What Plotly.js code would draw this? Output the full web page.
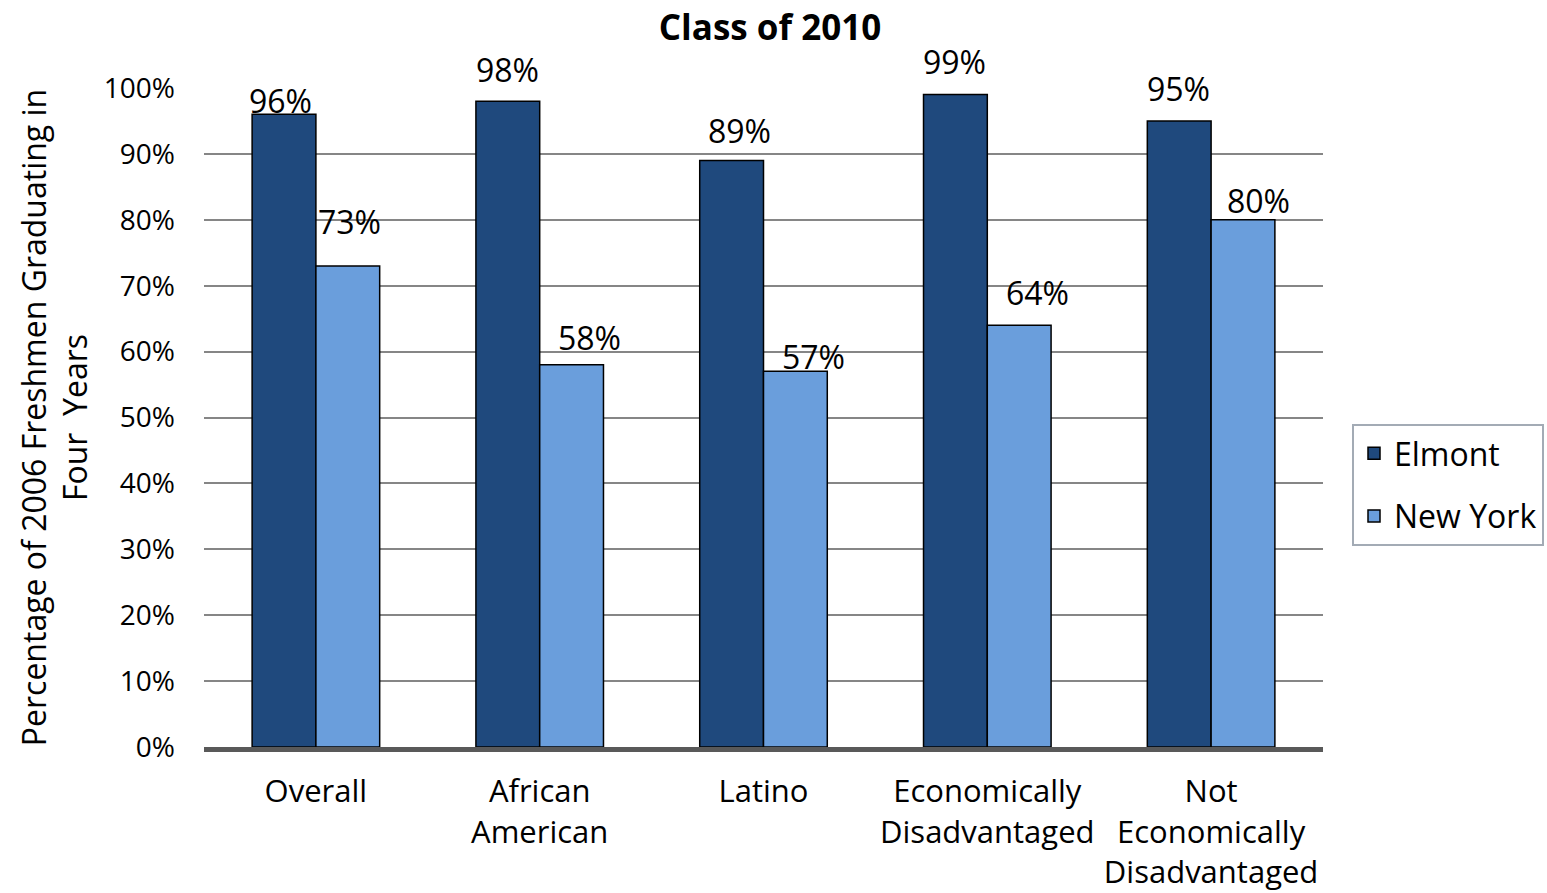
<!DOCTYPE html>
<html><head><meta charset="utf-8">
<script src="https://cdn.plot.ly/plotly-3.0.1.min.js"></script>
<style>html,body{margin:0;padding:0;background:#fff;}#chart{width:1547px;height:893px;}</style>
</head><body><div id="chart"></div>
<script>
const categories = ["Overall", "African<br>American", "Latino", "Economically<br>Disadvantaged", "Not<br>Economically<br>Disadvantaged"];
const elmont = [0.96, 0.98, 0.89, 0.99, 0.95];
const newYork = [0.73, 0.58, 0.57, 0.64, 0.80];
const yTickVals = [0, 0.1, 0.2, 0.3, 0.4, 0.5, 0.6, 0.7, 0.8, 0.9, 1.0];
const yTickText = ["0%", "10%", "20%", "30%", "40%", "50%", "60%", "70%", "80%", "90%", "100%"];

// label nudges (pixels) mimicking the original label placement
const elmontLabelShift = [[-3, 14], [0, 32], [8, 30], [-1, 33], [-1, 32]];
const nyLabelShift = [[2, 44], [18, 27], [18, 15], [18, 33], [15, 19]];

const FONT = "'Open Sans', 'Noto Sans', sans-serif";

const traces = [
  {type: "bar", name: "Elmont", x: categories, y: elmont, legendgroup: "a",
   marker: {color: "#1f497d", line: {color: "#000", width: 1.5}}, hoverinfo: "skip"},
  {type: "bar", name: "New York", x: categories, y: newYork, legendgroup: "b",
   marker: {color: "#6a9edc", line: {color: "#000", width: 1.5}}, hoverinfo: "skip"}
];

const annotations = [];
function pct(v){ return Math.round(v*100) + "%"; }
elmont.forEach((v, i) => annotations.push({x: categories[i], y: v, xref: "x", yref: "y",
  text: pct(v), showarrow: false, xshift: -32 + elmontLabelShift[i][0], yshift: elmontLabelShift[i][1],
  font: {family: FONT, size: 32, color: "#000"}}));
newYork.forEach((v, i) => annotations.push({x: categories[i], y: v, xref: "x", yref: "y",
  text: pct(v), showarrow: false, xshift: 32 + nyLabelShift[i][0], yshift: nyLabelShift[i][1],
  font: {family: FONT, size: 32, color: "#000"}}));

const layout = {
  width: 1547, height: 893,
  margin: {l: 204, r: 224, t: 88, b: 146, pad: 0, autoexpand: false},
  paper_bgcolor: "#fff", plot_bgcolor: "#fff",
  font: {family: FONT, color: "#000"},
  title: {text: "<b>Class of 2010</b>", font: {family: FONT, size: 35, color: "#000"},
          x: 770/1547, xref: "container", xanchor: "center", y: 1 - 28/893, yref: "container", yanchor: "middle"},
  barmode: "group", bargap: 0.43, bargroupgap: 0,
  xaxis: {type: "category", showgrid: false, showline: true, linecolor: "#595959", linewidth: 5,
          ticks: "", tickfont: {family: FONT, size: 31, color: "#000"}, ticklabelstandoff: 13, fixedrange: true},
  yaxis: {range: [0, 1], tickvals: yTickVals, ticktext: yTickText, showgrid: true, gridcolor: "#868686", gridwidth: 2,
          zeroline: false, showline: false, ticks: "", ticklabelstandoff: 28,
          tickfont: {family: FONT, size: 28, color: "#000"},
          title: {text: "Percentage of 2006 Freshmen Graduating in<br>Four  Years", standoff: 6,
                  font: {family: FONT, size: 32, color: "#000"}}, fixedrange: true},
  showlegend: true,
  legend: {x: (1352-204)/1119, xanchor: "left", y: (747-485)/659, yanchor: "middle",
           bordercolor: "#a3abb5", borderwidth: 2, bgcolor: "#fff",
           font: {family: FONT, size: 32, color: "#000"}, tracegroupgap: 18},
  annotations: annotations
};

Plotly.newPlot("chart", traces, layout, {displayModeBar: false, staticPlot: true});
</script></body></html>
